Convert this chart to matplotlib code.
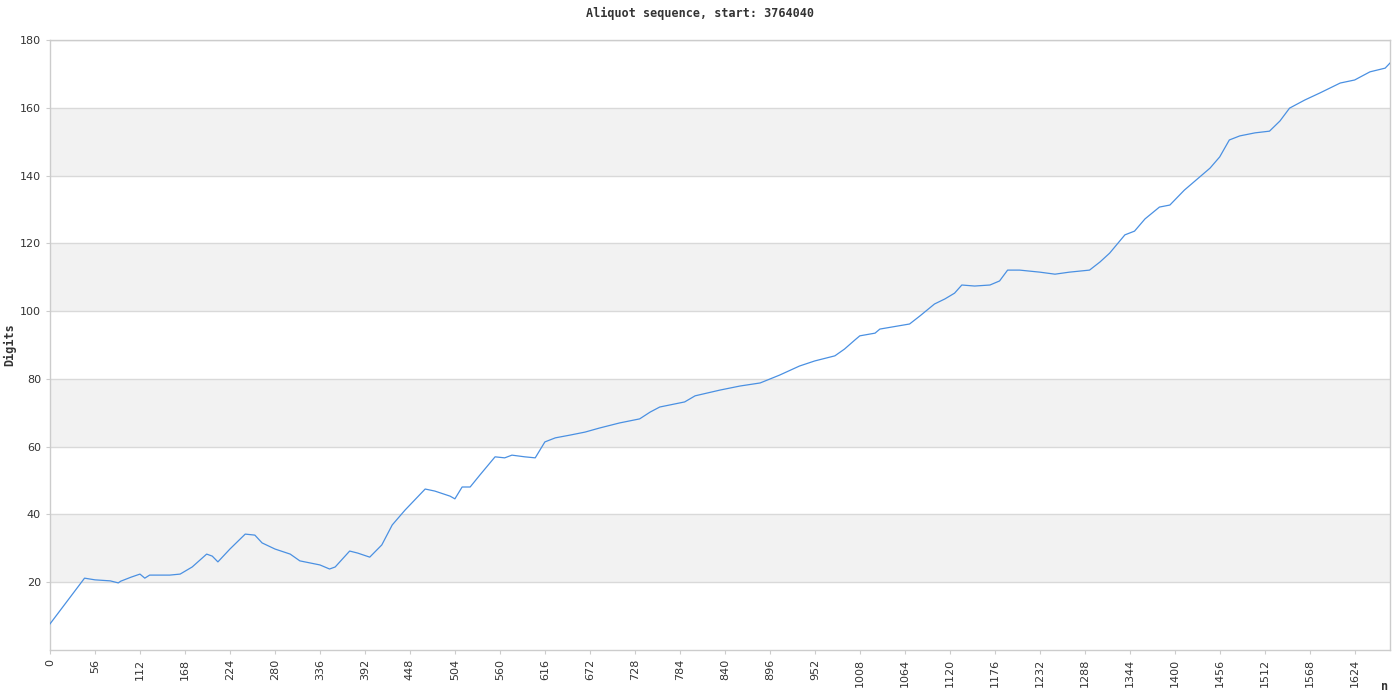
import matplotlib
matplotlib.use("Agg")
import matplotlib.pyplot as plt
import numpy as np

# Traced data: index n and number of digits
n_vals = [0, 43, 56, 75, 85, 88, 101, 112, 118, 124, 149, 162, 177, 195, 202, 209,
          224, 243, 255, 264, 280, 299, 311, 336, 348, 355, 373, 383, 398, 413, 426,
          442, 467, 479, 498, 504, 513, 523, 535, 554, 566, 575, 591, 604, 616, 629,
          647, 666, 684, 709, 734, 747, 759, 790, 803, 834, 859, 884, 908, 933, 952,
          977, 989, 1002, 1008, 1027, 1033, 1070, 1083, 1101, 1114, 1126, 1135, 1151,
          1170, 1182, 1192, 1207, 1232, 1251, 1269, 1294, 1307, 1319, 1338, 1350,
          1363, 1381, 1394, 1412, 1444, 1456, 1468, 1481, 1500, 1518, 1531, 1543,
          1562, 1581, 1606, 1624, 1643, 1662, 1668]
digits = [7.7, 21.2, 20.7, 20.4, 19.8, 20.3, 21.5, 22.4, 21.2, 22.1, 22.1, 22.4, 24.5,
          28.3, 27.7, 26.0, 29.8, 34.2, 33.9, 31.6, 29.8, 28.3, 26.3, 25.1, 23.9, 24.5,
          29.2, 28.6, 27.4, 31.0, 36.9, 41.3, 47.5, 46.9, 45.4, 44.6, 48.1, 48.1, 51.6,
          57.0, 56.7, 57.5, 57.0, 56.7, 61.4, 62.6, 63.4, 64.3, 65.5, 67.0, 68.2, 70.2,
          71.7, 73.2, 75.0, 76.7, 77.9, 78.8, 81.1, 83.8, 85.3, 86.8, 88.8, 91.5, 92.7,
          93.5, 94.7, 96.2, 98.6, 102.1, 103.6, 105.3, 107.7, 107.4, 107.7, 108.9,
          112.1, 112.1, 111.5, 110.9, 111.5, 112.1, 114.5, 117.1, 122.5, 123.6, 127.2,
          130.7, 131.3, 135.7, 142.2, 145.5, 150.5, 151.7, 152.6, 153.1, 156.1, 159.9,
          162.3, 164.4, 167.3, 168.2, 170.6, 171.7, 173.2]

x_ticks = list(range(0, 1680, 56))
y_ticks = [20, 40, 60, 80, 100, 120, 140, 160, 180]
title = "Aliquot sequence, start: 3764040"

fig = plt.figure(figsize=(14, 7), dpi=100)
ax = fig.add_axes([50/1400, 50/700, 1340/1400, 610/700])

# alternating bands
for lo in range(20, 180, 40):
    ax.axhspan(lo, lo + 20, color="#f2f2f2", zorder=0, lw=0)
for y in y_ticks:
    ax.axhline(y, color="#d9d9d9", lw=1, zorder=1)

ax.plot(n_vals, digits, color="#4a90e2", lw=0.9, zorder=3)

ax.set_xlim(0, 1668)
ax.set_ylim(0, 180)
ax.set_xticks(x_ticks)
ax.set_xticklabels([str(t) for t in x_ticks], rotation=90, fontsize=8, color="#333333",
                   family="DejaVu Sans")
ax.set_yticks(y_ticks)
ax.set_yticklabels([str(t) for t in y_ticks], fontsize=8, color="#333333")
ax.tick_params(axis="both", length=3, color="#cccccc")
for s in ax.spines.values():
    s.set_color("#cccccc")
    s.set_linewidth(1)

fig.text(700/1400, 1 - 13/700, title, ha="center", va="center", fontsize=8.5,
         fontweight="bold", family="DejaVu Sans Mono", color="#333333")
fig.text(10/1400, 1 - 345/700, "Digits", ha="center", va="center", rotation=90,
         fontsize=8.5, fontweight="bold", family="DejaVu Sans Mono", color="#333333")
fig.text(1385/1400, 1 - 686/700, "n", ha="center", va="center", fontsize=8.5,
         fontweight="bold", family="DejaVu Sans Mono", color="#333333")

fig.savefig("out.png", dpi=100, facecolor="white")
